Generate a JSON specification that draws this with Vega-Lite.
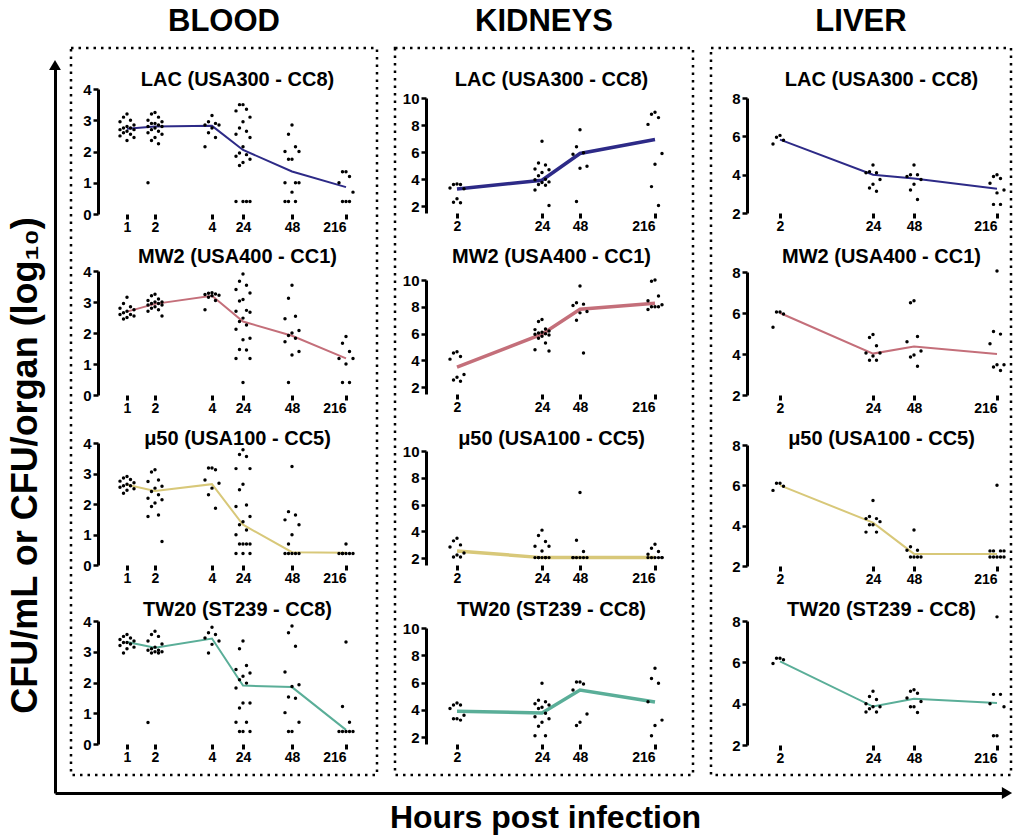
{
"$schema":"https://vega.github.io/schema/vega-lite/v6.json",
"background":"white",
"padding":{"left":5,"top":4,"right":0,"bottom":0},
"spacing":18,
"bounds":"flush",
"datasets":{
"lod":[{"o":"Blood","lod":0.6},{"o":"Kidneys","lod":2.1},{"o":"Liver","lod":2.5}],
"breaks":[{"o":"Blood","a":0,"b":9.2},{"o":"Blood","a":11.1,"b":63.6},{"o":"Blood","a":82.2,"b":244},{"o":"Kidneys","a":0,"b":14.4},{"o":"Kidneys","a":15.7,"b":59.2},{"o":"Kidneys","a":70.4,"b":234},{"o":"Liver","a":0,"b":14.5},{"o":"Liver","a":16,"b":50},{"o":"Liver","a":68.2,"b":222}],
"arrows":[{"ax":"x","x":1,"y":0},{"ax":"y","x":0,"y":1}],
"means":[
{"o":"Blood","s":"LAC","t":1,"v":2.73},{"o":"Blood","s":"LAC","t":2,"v":2.8},{"o":"Blood","s":"LAC","t":4,"v":2.82},{"o":"Blood","s":"LAC","t":24,"v":2.05},{"o":"Blood","s":"LAC","t":48,"v":1.36},{"o":"Blood","s":"LAC","t":216,"v":0.86},
{"o":"Blood","s":"MW2","t":1,"v":2.69},{"o":"Blood","s":"MW2","t":2,"v":2.94},{"o":"Blood","s":"MW2","t":4,"v":3.2},{"o":"Blood","s":"MW2","t":24,"v":2.37},{"o":"Blood","s":"MW2","t":48,"v":1.91},{"o":"Blood","s":"MW2","t":216,"v":1.18},
{"o":"Blood","s":"μ50","t":1,"v":2.63},{"o":"Blood","s":"μ50","t":2,"v":2.43},{"o":"Blood","s":"μ50","t":4,"v":2.65},{"o":"Blood","s":"μ50","t":24,"v":1.32},{"o":"Blood","s":"μ50","t":48,"v":0.42},{"o":"Blood","s":"μ50","t":216,"v":0.4},
{"o":"Blood","s":"TW20","t":1,"v":3.32},{"o":"Blood","s":"TW20","t":2,"v":3.13},{"o":"Blood","s":"TW20","t":4,"v":3.43},{"o":"Blood","s":"TW20","t":24,"v":1.9},{"o":"Blood","s":"TW20","t":48,"v":1.85},{"o":"Blood","s":"TW20","t":216,"v":0.46},
{"o":"Kidneys","s":"LAC","t":2,"v":3.28},{"o":"Kidneys","s":"LAC","t":24,"v":3.92},{"o":"Kidneys","s":"LAC","t":48,"v":5.9},{"o":"Kidneys","s":"LAC","t":216,"v":6.93},
{"o":"Kidneys","s":"MW2","t":2,"v":3.5},{"o":"Kidneys","s":"MW2","t":24,"v":5.96},{"o":"Kidneys","s":"MW2","t":48,"v":7.82},{"o":"Kidneys","s":"MW2","t":216,"v":8.27},
{"o":"Kidneys","s":"μ50","t":2,"v":2.55},{"o":"Kidneys","s":"μ50","t":24,"v":2.05},{"o":"Kidneys","s":"μ50","t":48,"v":2.05},{"o":"Kidneys","s":"μ50","t":216,"v":2.05},
{"o":"Kidneys","s":"TW20","t":2,"v":3.9},{"o":"Kidneys","s":"TW20","t":24,"v":3.77},{"o":"Kidneys","s":"TW20","t":48,"v":5.45},{"o":"Kidneys","s":"TW20","t":216,"v":4.58},
{"o":"Liver","s":"LAC","t":2,"v":5.83},{"o":"Liver","s":"LAC","t":24,"v":4.0},{"o":"Liver","s":"LAC","t":48,"v":3.8},{"o":"Liver","s":"LAC","t":216,"v":3.27},
{"o":"Liver","s":"MW2","t":2,"v":6.0},{"o":"Liver","s":"MW2","t":24,"v":4.02},{"o":"Liver","s":"MW2","t":48,"v":4.37},{"o":"Liver","s":"MW2","t":216,"v":4.0},
{"o":"Liver","s":"μ50","t":2,"v":6.0},{"o":"Liver","s":"μ50","t":24,"v":4.15},{"o":"Liver","s":"μ50","t":48,"v":2.6},{"o":"Liver","s":"μ50","t":216,"v":2.6},
{"o":"Liver","s":"TW20","t":2,"v":6.05},{"o":"Liver","s":"TW20","t":24,"v":3.86},{"o":"Liver","s":"TW20","t":48,"v":4.24},{"o":"Liver","s":"TW20","t":216,"v":4.03}
],
"pts":[
{"o":"Blood","s":"LAC","t":1,"v":3.2},{"o":"Blood","s":"LAC","t":1,"v":3.1},{"o":"Blood","s":"LAC","t":1,"v":3.0},{"o":"Blood","s":"LAC","t":1,"v":2.95},{"o":"Blood","s":"LAC","t":1,"v":2.85},{"o":"Blood","s":"LAC","t":1,"v":2.8},{"o":"Blood","s":"LAC","t":1,"v":2.75},{"o":"Blood","s":"LAC","t":1,"v":2.75},{"o":"Blood","s":"LAC","t":1,"v":2.7},{"o":"Blood","s":"LAC","t":1,"v":2.7},{"o":"Blood","s":"LAC","t":1,"v":2.65},{"o":"Blood","s":"LAC","t":1,"v":2.6},{"o":"Blood","s":"LAC","t":1,"v":2.55},{"o":"Blood","s":"LAC","t":1,"v":2.5},{"o":"Blood","s":"LAC","t":1,"v":2.45},{"o":"Blood","s":"LAC","t":1,"v":2.35},
{"o":"Blood","s":"LAC","t":2,"v":3.25},{"o":"Blood","s":"LAC","t":2,"v":3.2},{"o":"Blood","s":"LAC","t":2,"v":3.1},{"o":"Blood","s":"LAC","t":2,"v":3.0},{"o":"Blood","s":"LAC","t":2,"v":2.95},{"o":"Blood","s":"LAC","t":2,"v":2.9},{"o":"Blood","s":"LAC","t":2,"v":2.9},{"o":"Blood","s":"LAC","t":2,"v":2.85},{"o":"Blood","s":"LAC","t":2,"v":2.8},{"o":"Blood","s":"LAC","t":2,"v":2.8},{"o":"Blood","s":"LAC","t":2,"v":2.75},{"o":"Blood","s":"LAC","t":2,"v":2.7},{"o":"Blood","s":"LAC","t":2,"v":2.65},{"o":"Blood","s":"LAC","t":2,"v":2.6},{"o":"Blood","s":"LAC","t":2,"v":2.55},{"o":"Blood","s":"LAC","t":2,"v":2.45},{"o":"Blood","s":"LAC","t":2,"v":2.35},{"o":"Blood","s":"LAC","t":2,"v":2.25},{"o":"Blood","s":"LAC","t":2,"v":1.0},
{"o":"Blood","s":"LAC","t":4,"v":3.15},{"o":"Blood","s":"LAC","t":4,"v":2.95},{"o":"Blood","s":"LAC","t":4,"v":2.9},{"o":"Blood","s":"LAC","t":4,"v":2.85},{"o":"Blood","s":"LAC","t":4,"v":2.85},{"o":"Blood","s":"LAC","t":4,"v":2.75},{"o":"Blood","s":"LAC","t":4,"v":2.6},{"o":"Blood","s":"LAC","t":4,"v":2.45},{"o":"Blood","s":"LAC","t":4,"v":2.15},
{"o":"Blood","s":"LAC","t":24,"v":3.5},{"o":"Blood","s":"LAC","t":24,"v":3.5},{"o":"Blood","s":"LAC","t":24,"v":3.35},{"o":"Blood","s":"LAC","t":24,"v":3.3},{"o":"Blood","s":"LAC","t":24,"v":3.1},{"o":"Blood","s":"LAC","t":24,"v":2.95},{"o":"Blood","s":"LAC","t":24,"v":2.75},{"o":"Blood","s":"LAC","t":24,"v":2.65},{"o":"Blood","s":"LAC","t":24,"v":2.55},{"o":"Blood","s":"LAC","t":24,"v":2.45},{"o":"Blood","s":"LAC","t":24,"v":2.15},{"o":"Blood","s":"LAC","t":24,"v":1.95},{"o":"Blood","s":"LAC","t":24,"v":1.9},{"o":"Blood","s":"LAC","t":24,"v":1.85},{"o":"Blood","s":"LAC","t":24,"v":1.75},{"o":"Blood","s":"LAC","t":24,"v":1.65},{"o":"Blood","s":"LAC","t":24,"v":1.55},{"o":"Blood","s":"LAC","t":24,"v":0.4},{"o":"Blood","s":"LAC","t":24,"v":0.4},{"o":"Blood","s":"LAC","t":24,"v":0.4},{"o":"Blood","s":"LAC","t":24,"v":0.4},
{"o":"Blood","s":"LAC","t":48,"v":2.85},{"o":"Blood","s":"LAC","t":48,"v":2.55},{"o":"Blood","s":"LAC","t":48,"v":2.15},{"o":"Blood","s":"LAC","t":48,"v":2.0},{"o":"Blood","s":"LAC","t":48,"v":2.0},{"o":"Blood","s":"LAC","t":48,"v":1.75},{"o":"Blood","s":"LAC","t":48,"v":1.75},{"o":"Blood","s":"LAC","t":48,"v":1.0},{"o":"Blood","s":"LAC","t":48,"v":1.0},{"o":"Blood","s":"LAC","t":48,"v":1.0},{"o":"Blood","s":"LAC","t":48,"v":0.7},{"o":"Blood","s":"LAC","t":48,"v":0.4},{"o":"Blood","s":"LAC","t":48,"v":0.4},{"o":"Blood","s":"LAC","t":48,"v":0.4},
{"o":"Blood","s":"LAC","t":216,"v":1.35},{"o":"Blood","s":"LAC","t":216,"v":1.35},{"o":"Blood","s":"LAC","t":216,"v":1.2},{"o":"Blood","s":"LAC","t":216,"v":1.0},{"o":"Blood","s":"LAC","t":216,"v":0.7},{"o":"Blood","s":"LAC","t":216,"v":0.4},{"o":"Blood","s":"LAC","t":216,"v":0.4},{"o":"Blood","s":"LAC","t":216,"v":0.4},
{"o":"Blood","s":"MW2","t":1,"v":3.15},{"o":"Blood","s":"MW2","t":1,"v":2.95},{"o":"Blood","s":"MW2","t":1,"v":2.85},{"o":"Blood","s":"MW2","t":1,"v":2.8},{"o":"Blood","s":"MW2","t":1,"v":2.75},{"o":"Blood","s":"MW2","t":1,"v":2.7},{"o":"Blood","s":"MW2","t":1,"v":2.65},{"o":"Blood","s":"MW2","t":1,"v":2.6},{"o":"Blood","s":"MW2","t":1,"v":2.6},{"o":"Blood","s":"MW2","t":1,"v":2.55},{"o":"Blood","s":"MW2","t":1,"v":2.5},{"o":"Blood","s":"MW2","t":1,"v":2.45},
{"o":"Blood","s":"MW2","t":2,"v":3.25},{"o":"Blood","s":"MW2","t":2,"v":3.2},{"o":"Blood","s":"MW2","t":2,"v":3.1},{"o":"Blood","s":"MW2","t":2,"v":3.05},{"o":"Blood","s":"MW2","t":2,"v":3.0},{"o":"Blood","s":"MW2","t":2,"v":3.0},{"o":"Blood","s":"MW2","t":2,"v":2.95},{"o":"Blood","s":"MW2","t":2,"v":2.95},{"o":"Blood","s":"MW2","t":2,"v":2.9},{"o":"Blood","s":"MW2","t":2,"v":2.9},{"o":"Blood","s":"MW2","t":2,"v":2.85},{"o":"Blood","s":"MW2","t":2,"v":2.8},{"o":"Blood","s":"MW2","t":2,"v":2.75},{"o":"Blood","s":"MW2","t":2,"v":2.7},{"o":"Blood","s":"MW2","t":2,"v":2.55},
{"o":"Blood","s":"MW2","t":4,"v":3.3},{"o":"Blood","s":"MW2","t":4,"v":3.28},{"o":"Blood","s":"MW2","t":4,"v":3.26},{"o":"Blood","s":"MW2","t":4,"v":3.24},{"o":"Blood","s":"MW2","t":4,"v":3.22},{"o":"Blood","s":"MW2","t":4,"v":3.2},{"o":"Blood","s":"MW2","t":4,"v":3.15},{"o":"Blood","s":"MW2","t":4,"v":3.05},{"o":"Blood","s":"MW2","t":4,"v":2.75},
{"o":"Blood","s":"MW2","t":24,"v":3.9},{"o":"Blood","s":"MW2","t":24,"v":3.67},{"o":"Blood","s":"MW2","t":24,"v":3.54},{"o":"Blood","s":"MW2","t":24,"v":3.4},{"o":"Blood","s":"MW2","t":24,"v":3.29},{"o":"Blood","s":"MW2","t":24,"v":3.08},{"o":"Blood","s":"MW2","t":24,"v":3.03},{"o":"Blood","s":"MW2","t":24,"v":2.73},{"o":"Blood","s":"MW2","t":24,"v":2.7},{"o":"Blood","s":"MW2","t":24,"v":2.67},{"o":"Blood","s":"MW2","t":24,"v":2.48},{"o":"Blood","s":"MW2","t":24,"v":2.37},{"o":"Blood","s":"MW2","t":24,"v":2.26},{"o":"Blood","s":"MW2","t":24,"v":2.12},{"o":"Blood","s":"MW2","t":24,"v":1.83},{"o":"Blood","s":"MW2","t":24,"v":1.78},{"o":"Blood","s":"MW2","t":24,"v":1.47},{"o":"Blood","s":"MW2","t":24,"v":1.45},{"o":"Blood","s":"MW2","t":24,"v":1.18},{"o":"Blood","s":"MW2","t":24,"v":1.18},{"o":"Blood","s":"MW2","t":24,"v":0.4},
{"o":"Blood","s":"MW2","t":48,"v":3.54},{"o":"Blood","s":"MW2","t":48,"v":3.12},{"o":"Blood","s":"MW2","t":48,"v":2.54},{"o":"Blood","s":"MW2","t":48,"v":2.46},{"o":"Blood","s":"MW2","t":48,"v":2.08},{"o":"Blood","s":"MW2","t":48,"v":2.0},{"o":"Blood","s":"MW2","t":48,"v":1.92},{"o":"Blood","s":"MW2","t":48,"v":1.83},{"o":"Blood","s":"MW2","t":48,"v":1.72},{"o":"Blood","s":"MW2","t":48,"v":1.4},{"o":"Blood","s":"MW2","t":48,"v":1.29},{"o":"Blood","s":"MW2","t":48,"v":0.4},
{"o":"Blood","s":"MW2","t":216,"v":1.89},{"o":"Blood","s":"MW2","t":216,"v":1.67},{"o":"Blood","s":"MW2","t":216,"v":1.4},{"o":"Blood","s":"MW2","t":216,"v":1.18},{"o":"Blood","s":"MW2","t":216,"v":1.18},{"o":"Blood","s":"MW2","t":216,"v":1.0},{"o":"Blood","s":"MW2","t":216,"v":0.4},{"o":"Blood","s":"MW2","t":216,"v":0.4},
{"o":"Blood","s":"μ50","t":1,"v":2.9},{"o":"Blood","s":"μ50","t":1,"v":2.85},{"o":"Blood","s":"μ50","t":1,"v":2.8},{"o":"Blood","s":"μ50","t":1,"v":2.75},{"o":"Blood","s":"μ50","t":1,"v":2.7},{"o":"Blood","s":"μ50","t":1,"v":2.65},{"o":"Blood","s":"μ50","t":1,"v":2.6},{"o":"Blood","s":"μ50","t":1,"v":2.6},{"o":"Blood","s":"μ50","t":1,"v":2.55},{"o":"Blood","s":"μ50","t":1,"v":2.5},{"o":"Blood","s":"μ50","t":1,"v":2.45},{"o":"Blood","s":"μ50","t":1,"v":2.35},
{"o":"Blood","s":"μ50","t":2,"v":3.12},{"o":"Blood","s":"μ50","t":2,"v":3.05},{"o":"Blood","s":"μ50","t":2,"v":2.79},{"o":"Blood","s":"μ50","t":2,"v":2.74},{"o":"Blood","s":"μ50","t":2,"v":2.58},{"o":"Blood","s":"μ50","t":2,"v":2.52},{"o":"Blood","s":"μ50","t":2,"v":2.41},{"o":"Blood","s":"μ50","t":2,"v":2.3},{"o":"Blood","s":"μ50","t":2,"v":2.19},{"o":"Blood","s":"μ50","t":2,"v":2.14},{"o":"Blood","s":"μ50","t":2,"v":2.03},{"o":"Blood","s":"μ50","t":2,"v":1.92},{"o":"Blood","s":"μ50","t":2,"v":1.64},{"o":"Blood","s":"μ50","t":2,"v":1.59},{"o":"Blood","s":"μ50","t":2,"v":0.77},
{"o":"Blood","s":"μ50","t":4,"v":3.18},{"o":"Blood","s":"μ50","t":4,"v":3.18},{"o":"Blood","s":"μ50","t":4,"v":3.12},{"o":"Blood","s":"μ50","t":4,"v":2.79},{"o":"Blood","s":"μ50","t":4,"v":2.68},{"o":"Blood","s":"μ50","t":4,"v":2.52},{"o":"Blood","s":"μ50","t":4,"v":2.3},{"o":"Blood","s":"μ50","t":4,"v":1.86},
{"o":"Blood","s":"μ50","t":24,"v":3.78},{"o":"Blood","s":"μ50","t":24,"v":3.62},{"o":"Blood","s":"μ50","t":24,"v":3.56},{"o":"Blood","s":"μ50","t":24,"v":3.16},{"o":"Blood","s":"μ50","t":24,"v":3.16},{"o":"Blood","s":"μ50","t":24,"v":2.65},{"o":"Blood","s":"μ50","t":24,"v":2.47},{"o":"Blood","s":"μ50","t":24,"v":1.97},{"o":"Blood","s":"μ50","t":24,"v":1.92},{"o":"Blood","s":"μ50","t":24,"v":1.59},{"o":"Blood","s":"μ50","t":24,"v":1.42},{"o":"Blood","s":"μ50","t":24,"v":1.32},{"o":"Blood","s":"μ50","t":24,"v":1.15},{"o":"Blood","s":"μ50","t":24,"v":0.99},{"o":"Blood","s":"μ50","t":24,"v":0.69},{"o":"Blood","s":"μ50","t":24,"v":0.69},{"o":"Blood","s":"μ50","t":24,"v":0.69},{"o":"Blood","s":"μ50","t":24,"v":0.69},{"o":"Blood","s":"μ50","t":24,"v":0.38},{"o":"Blood","s":"μ50","t":24,"v":0.38},{"o":"Blood","s":"μ50","t":24,"v":0.38},
{"o":"Blood","s":"μ50","t":48,"v":3.23},{"o":"Blood","s":"μ50","t":48,"v":1.75},{"o":"Blood","s":"μ50","t":48,"v":1.64},{"o":"Blood","s":"μ50","t":48,"v":1.48},{"o":"Blood","s":"μ50","t":48,"v":1.32},{"o":"Blood","s":"μ50","t":48,"v":0.99},{"o":"Blood","s":"μ50","t":48,"v":0.69},{"o":"Blood","s":"μ50","t":48,"v":0.38},{"o":"Blood","s":"μ50","t":48,"v":0.38},{"o":"Blood","s":"μ50","t":48,"v":0.38},{"o":"Blood","s":"μ50","t":48,"v":0.38},{"o":"Blood","s":"μ50","t":48,"v":0.38},
{"o":"Blood","s":"μ50","t":216,"v":0.69},{"o":"Blood","s":"μ50","t":216,"v":0.38},{"o":"Blood","s":"μ50","t":216,"v":0.38},{"o":"Blood","s":"μ50","t":216,"v":0.38},{"o":"Blood","s":"μ50","t":216,"v":0.38},{"o":"Blood","s":"μ50","t":216,"v":0.38},{"o":"Blood","s":"μ50","t":216,"v":0.38},
{"o":"Blood","s":"TW20","t":1,"v":3.56},{"o":"Blood","s":"TW20","t":1,"v":3.5},{"o":"Blood","s":"TW20","t":1,"v":3.45},{"o":"Blood","s":"TW20","t":1,"v":3.4},{"o":"Blood","s":"TW20","t":1,"v":3.35},{"o":"Blood","s":"TW20","t":1,"v":3.3},{"o":"Blood","s":"TW20","t":1,"v":3.3},{"o":"Blood","s":"TW20","t":1,"v":3.25},{"o":"Blood","s":"TW20","t":1,"v":3.2},{"o":"Blood","s":"TW20","t":1,"v":3.15},{"o":"Blood","s":"TW20","t":1,"v":3.1},{"o":"Blood","s":"TW20","t":1,"v":2.96},
{"o":"Blood","s":"TW20","t":2,"v":3.67},{"o":"Blood","s":"TW20","t":2,"v":3.56},{"o":"Blood","s":"TW20","t":2,"v":3.5},{"o":"Blood","s":"TW20","t":2,"v":3.35},{"o":"Blood","s":"TW20","t":2,"v":3.25},{"o":"Blood","s":"TW20","t":2,"v":3.15},{"o":"Blood","s":"TW20","t":2,"v":3.1},{"o":"Blood","s":"TW20","t":2,"v":3.05},{"o":"Blood","s":"TW20","t":2,"v":3.05},{"o":"Blood","s":"TW20","t":2,"v":3.0},{"o":"Blood","s":"TW20","t":2,"v":3.0},{"o":"Blood","s":"TW20","t":2,"v":2.96},{"o":"Blood","s":"TW20","t":2,"v":2.96},{"o":"Blood","s":"TW20","t":2,"v":0.7},
{"o":"Blood","s":"TW20","t":4,"v":3.8},{"o":"Blood","s":"TW20","t":4,"v":3.62},{"o":"Blood","s":"TW20","t":4,"v":3.56},{"o":"Blood","s":"TW20","t":4,"v":3.45},{"o":"Blood","s":"TW20","t":4,"v":3.35},{"o":"Blood","s":"TW20","t":4,"v":3.24},{"o":"Blood","s":"TW20","t":4,"v":2.96},
{"o":"Blood","s":"TW20","t":24,"v":3.35},{"o":"Blood","s":"TW20","t":24,"v":3.1},{"o":"Blood","s":"TW20","t":24,"v":2.55},{"o":"Blood","s":"TW20","t":24,"v":2.42},{"o":"Blood","s":"TW20","t":24,"v":2.31},{"o":"Blood","s":"TW20","t":24,"v":2.2},{"o":"Blood","s":"TW20","t":24,"v":2.09},{"o":"Blood","s":"TW20","t":24,"v":1.98},{"o":"Blood","s":"TW20","t":24,"v":1.82},{"o":"Blood","s":"TW20","t":24,"v":1.33},{"o":"Blood","s":"TW20","t":24,"v":1.33},{"o":"Blood","s":"TW20","t":24,"v":1.17},{"o":"Blood","s":"TW20","t":24,"v":0.71},{"o":"Blood","s":"TW20","t":24,"v":0.71},{"o":"Blood","s":"TW20","t":24,"v":0.41},{"o":"Blood","s":"TW20","t":24,"v":0.41},{"o":"Blood","s":"TW20","t":24,"v":0.41},
{"o":"Blood","s":"TW20","t":48,"v":3.84},{"o":"Blood","s":"TW20","t":48,"v":3.62},{"o":"Blood","s":"TW20","t":48,"v":3.18},{"o":"Blood","s":"TW20","t":48,"v":2.34},{"o":"Blood","s":"TW20","t":48,"v":1.93},{"o":"Blood","s":"TW20","t":48,"v":1.87},{"o":"Blood","s":"TW20","t":48,"v":1.53},{"o":"Blood","s":"TW20","t":48,"v":1.49},{"o":"Blood","s":"TW20","t":48,"v":1.02},{"o":"Blood","s":"TW20","t":48,"v":0.71},{"o":"Blood","s":"TW20","t":48,"v":0.41},{"o":"Blood","s":"TW20","t":48,"v":0.41},
{"o":"Blood","s":"TW20","t":216,"v":3.32},{"o":"Blood","s":"TW20","t":216,"v":1.22},{"o":"Blood","s":"TW20","t":216,"v":0.71},{"o":"Blood","s":"TW20","t":216,"v":0.41},{"o":"Blood","s":"TW20","t":216,"v":0.41},{"o":"Blood","s":"TW20","t":216,"v":0.41},{"o":"Blood","s":"TW20","t":216,"v":0.41},{"o":"Blood","s":"TW20","t":216,"v":0.41},
{"o":"Kidneys","s":"LAC","t":2,"v":3.65},{"o":"Kidneys","s":"LAC","t":2,"v":3.6},{"o":"Kidneys","s":"LAC","t":2,"v":3.6},{"o":"Kidneys","s":"LAC","t":2,"v":3.35},{"o":"Kidneys","s":"LAC","t":2,"v":3.3},{"o":"Kidneys","s":"LAC","t":2,"v":2.55},{"o":"Kidneys","s":"LAC","t":2,"v":2.3},{"o":"Kidneys","s":"LAC","t":2,"v":2.25},
{"o":"Kidneys","s":"LAC","t":24,"v":6.8},{"o":"Kidneys","s":"LAC","t":24,"v":5.2},{"o":"Kidneys","s":"LAC","t":24,"v":5.05},{"o":"Kidneys","s":"LAC","t":24,"v":4.75},{"o":"Kidneys","s":"LAC","t":24,"v":4.7},{"o":"Kidneys","s":"LAC","t":24,"v":4.5},{"o":"Kidneys","s":"LAC","t":24,"v":4.25},{"o":"Kidneys","s":"LAC","t":24,"v":4.0},{"o":"Kidneys","s":"LAC","t":24,"v":3.95},{"o":"Kidneys","s":"LAC","t":24,"v":3.8},{"o":"Kidneys","s":"LAC","t":24,"v":3.75},{"o":"Kidneys","s":"LAC","t":24,"v":3.6},{"o":"Kidneys","s":"LAC","t":24,"v":3.55},{"o":"Kidneys","s":"LAC","t":24,"v":3.2},{"o":"Kidneys","s":"LAC","t":24,"v":2.05},
{"o":"Kidneys","s":"LAC","t":48,"v":7.65},{"o":"Kidneys","s":"LAC","t":48,"v":6.4},{"o":"Kidneys","s":"LAC","t":48,"v":5.95},{"o":"Kidneys","s":"LAC","t":48,"v":5.85},{"o":"Kidneys","s":"LAC","t":48,"v":4.95},{"o":"Kidneys","s":"LAC","t":48,"v":4.8},{"o":"Kidneys","s":"LAC","t":48,"v":2.35},
{"o":"Kidneys","s":"LAC","t":216,"v":8.95},{"o":"Kidneys","s":"LAC","t":216,"v":8.8},{"o":"Kidneys","s":"LAC","t":216,"v":8.55},{"o":"Kidneys","s":"LAC","t":216,"v":8.05},{"o":"Kidneys","s":"LAC","t":216,"v":5.9},{"o":"Kidneys","s":"LAC","t":216,"v":5.1},{"o":"Kidneys","s":"LAC","t":216,"v":3.45},{"o":"Kidneys","s":"LAC","t":216,"v":2.05},
{"o":"Kidneys","s":"MW2","t":2,"v":4.65},{"o":"Kidneys","s":"MW2","t":2,"v":4.55},{"o":"Kidneys","s":"MW2","t":2,"v":4.3},{"o":"Kidneys","s":"MW2","t":2,"v":4.1},{"o":"Kidneys","s":"MW2","t":2,"v":2.95},{"o":"Kidneys","s":"MW2","t":2,"v":2.75},{"o":"Kidneys","s":"MW2","t":2,"v":2.55},{"o":"Kidneys","s":"MW2","t":2,"v":2.45},
{"o":"Kidneys","s":"MW2","t":24,"v":7.05},{"o":"Kidneys","s":"MW2","t":24,"v":6.9},{"o":"Kidneys","s":"MW2","t":24,"v":6.35},{"o":"Kidneys","s":"MW2","t":24,"v":6.3},{"o":"Kidneys","s":"MW2","t":24,"v":6.2},{"o":"Kidneys","s":"MW2","t":24,"v":6.1},{"o":"Kidneys","s":"MW2","t":24,"v":6.05},{"o":"Kidneys","s":"MW2","t":24,"v":6.0},{"o":"Kidneys","s":"MW2","t":24,"v":5.95},{"o":"Kidneys","s":"MW2","t":24,"v":5.9},{"o":"Kidneys","s":"MW2","t":24,"v":5.8},{"o":"Kidneys","s":"MW2","t":24,"v":5.65},{"o":"Kidneys","s":"MW2","t":24,"v":5.3},{"o":"Kidneys","s":"MW2","t":24,"v":4.8},{"o":"Kidneys","s":"MW2","t":24,"v":4.7},
{"o":"Kidneys","s":"MW2","t":48,"v":9.55},{"o":"Kidneys","s":"MW2","t":48,"v":8.3},{"o":"Kidneys","s":"MW2","t":48,"v":8.2},{"o":"Kidneys","s":"MW2","t":48,"v":8.1},{"o":"Kidneys","s":"MW2","t":48,"v":7.65},{"o":"Kidneys","s":"MW2","t":48,"v":7.55},{"o":"Kidneys","s":"MW2","t":48,"v":7.0},{"o":"Kidneys","s":"MW2","t":48,"v":4.55},
{"o":"Kidneys","s":"MW2","t":216,"v":10.0},{"o":"Kidneys","s":"MW2","t":216,"v":9.9},{"o":"Kidneys","s":"MW2","t":216,"v":8.8},{"o":"Kidneys","s":"MW2","t":216,"v":8.45},{"o":"Kidneys","s":"MW2","t":216,"v":8.15},{"o":"Kidneys","s":"MW2","t":216,"v":8.0},{"o":"Kidneys","s":"MW2","t":216,"v":8.0},{"o":"Kidneys","s":"MW2","t":216,"v":8.0},{"o":"Kidneys","s":"MW2","t":216,"v":7.8},
{"o":"Kidneys","s":"μ50","t":2,"v":3.5},{"o":"Kidneys","s":"μ50","t":2,"v":3.3},{"o":"Kidneys","s":"μ50","t":2,"v":3.0},{"o":"Kidneys","s":"μ50","t":2,"v":2.85},{"o":"Kidneys","s":"μ50","t":2,"v":2.4},{"o":"Kidneys","s":"μ50","t":2,"v":2.25},{"o":"Kidneys","s":"μ50","t":2,"v":2.1},{"o":"Kidneys","s":"μ50","t":2,"v":2.1},
{"o":"Kidneys","s":"μ50","t":24,"v":4.1},{"o":"Kidneys","s":"μ50","t":24,"v":3.7},{"o":"Kidneys","s":"μ50","t":24,"v":3.25},{"o":"Kidneys","s":"μ50","t":24,"v":2.9},{"o":"Kidneys","s":"μ50","t":24,"v":2.9},{"o":"Kidneys","s":"μ50","t":24,"v":2.55},{"o":"Kidneys","s":"μ50","t":24,"v":2.05},{"o":"Kidneys","s":"μ50","t":24,"v":2.05},{"o":"Kidneys","s":"μ50","t":24,"v":2.05},{"o":"Kidneys","s":"μ50","t":24,"v":2.05},{"o":"Kidneys","s":"μ50","t":24,"v":2.05},{"o":"Kidneys","s":"μ50","t":24,"v":2.05},{"o":"Kidneys","s":"μ50","t":24,"v":2.05},
{"o":"Kidneys","s":"μ50","t":48,"v":6.9},{"o":"Kidneys","s":"μ50","t":48,"v":3.35},{"o":"Kidneys","s":"μ50","t":48,"v":2.5},{"o":"Kidneys","s":"μ50","t":48,"v":2.05},{"o":"Kidneys","s":"μ50","t":48,"v":2.05},{"o":"Kidneys","s":"μ50","t":48,"v":2.05},{"o":"Kidneys","s":"μ50","t":48,"v":2.05},{"o":"Kidneys","s":"μ50","t":48,"v":2.05},{"o":"Kidneys","s":"μ50","t":48,"v":2.05},
{"o":"Kidneys","s":"μ50","t":216,"v":3.05},{"o":"Kidneys","s":"μ50","t":216,"v":2.75},{"o":"Kidneys","s":"μ50","t":216,"v":2.5},{"o":"Kidneys","s":"μ50","t":216,"v":2.3},{"o":"Kidneys","s":"μ50","t":216,"v":2.05},{"o":"Kidneys","s":"μ50","t":216,"v":2.05},{"o":"Kidneys","s":"μ50","t":216,"v":2.05},{"o":"Kidneys","s":"μ50","t":216,"v":2.05},{"o":"Kidneys","s":"μ50","t":216,"v":2.05},{"o":"Kidneys","s":"μ50","t":216,"v":2.05},
{"o":"Kidneys","s":"TW20","t":2,"v":4.5},{"o":"Kidneys","s":"TW20","t":2,"v":4.35},{"o":"Kidneys","s":"TW20","t":2,"v":4.35},{"o":"Kidneys","s":"TW20","t":2,"v":4.1},{"o":"Kidneys","s":"TW20","t":2,"v":3.6},{"o":"Kidneys","s":"TW20","t":2,"v":3.35},{"o":"Kidneys","s":"TW20","t":2,"v":3.35},{"o":"Kidneys","s":"TW20","t":2,"v":3.25},
{"o":"Kidneys","s":"TW20","t":24,"v":5.95},{"o":"Kidneys","s":"TW20","t":24,"v":4.7},{"o":"Kidneys","s":"TW20","t":24,"v":4.6},{"o":"Kidneys","s":"TW20","t":24,"v":4.45},{"o":"Kidneys","s":"TW20","t":24,"v":4.35},{"o":"Kidneys","s":"TW20","t":24,"v":4.2},{"o":"Kidneys","s":"TW20","t":24,"v":4.1},{"o":"Kidneys","s":"TW20","t":24,"v":3.75},{"o":"Kidneys","s":"TW20","t":24,"v":3.5},{"o":"Kidneys","s":"TW20","t":24,"v":3.35},{"o":"Kidneys","s":"TW20","t":24,"v":3.1},{"o":"Kidneys","s":"TW20","t":24,"v":2.8},{"o":"Kidneys","s":"TW20","t":24,"v":2.1},{"o":"Kidneys","s":"TW20","t":24,"v":2.1},
{"o":"Kidneys","s":"TW20","t":48,"v":6.05},{"o":"Kidneys","s":"TW20","t":48,"v":6.05},{"o":"Kidneys","s":"TW20","t":48,"v":5.9},{"o":"Kidneys","s":"TW20","t":48,"v":5.45},{"o":"Kidneys","s":"TW20","t":48,"v":3.7},{"o":"Kidneys","s":"TW20","t":48,"v":3.1},{"o":"Kidneys","s":"TW20","t":48,"v":2.85},
{"o":"Kidneys","s":"TW20","t":216,"v":7.05},{"o":"Kidneys","s":"TW20","t":216,"v":6.3},{"o":"Kidneys","s":"TW20","t":216,"v":5.95},{"o":"Kidneys","s":"TW20","t":216,"v":4.6},{"o":"Kidneys","s":"TW20","t":216,"v":3.25},{"o":"Kidneys","s":"TW20","t":216,"v":2.85},{"o":"Kidneys","s":"TW20","t":216,"v":2.1},
{"o":"Liver","s":"LAC","t":2,"v":6.05},{"o":"Liver","s":"LAC","t":2,"v":5.95},{"o":"Liver","s":"LAC","t":2,"v":5.8},{"o":"Liver","s":"LAC","t":2,"v":5.6},
{"o":"Liver","s":"LAC","t":24,"v":4.5},{"o":"Liver","s":"LAC","t":24,"v":4.15},{"o":"Liver","s":"LAC","t":24,"v":4.1},{"o":"Liver","s":"LAC","t":24,"v":4.1},{"o":"Liver","s":"LAC","t":24,"v":3.75},{"o":"Liver","s":"LAC","t":24,"v":3.5},{"o":"Liver","s":"LAC","t":24,"v":3.3},{"o":"Liver","s":"LAC","t":24,"v":3.13},
{"o":"Liver","s":"LAC","t":48,"v":4.5},{"o":"Liver","s":"LAC","t":48,"v":4.0},{"o":"Liver","s":"LAC","t":48,"v":4.0},{"o":"Liver","s":"LAC","t":48,"v":3.9},{"o":"Liver","s":"LAC","t":48,"v":3.75},{"o":"Liver","s":"LAC","t":48,"v":3.5},{"o":"Liver","s":"LAC","t":48,"v":3.2},{"o":"Liver","s":"LAC","t":48,"v":2.7},
{"o":"Liver","s":"LAC","t":216,"v":4.0},{"o":"Liver","s":"LAC","t":216,"v":3.9},{"o":"Liver","s":"LAC","t":216,"v":3.8},{"o":"Liver","s":"LAC","t":216,"v":3.55},{"o":"Liver","s":"LAC","t":216,"v":3.2},{"o":"Liver","s":"LAC","t":216,"v":3.05},{"o":"Liver","s":"LAC","t":216,"v":2.45},{"o":"Liver","s":"LAC","t":216,"v":2.45},
{"o":"Liver","s":"MW2","t":2,"v":6.05},{"o":"Liver","s":"MW2","t":2,"v":6.05},{"o":"Liver","s":"MW2","t":2,"v":5.95},{"o":"Liver","s":"MW2","t":2,"v":5.3},
{"o":"Liver","s":"MW2","t":24,"v":4.95},{"o":"Liver","s":"MW2","t":24,"v":4.8},{"o":"Liver","s":"MW2","t":24,"v":4.4},{"o":"Liver","s":"MW2","t":24,"v":4.05},{"o":"Liver","s":"MW2","t":24,"v":4.05},{"o":"Liver","s":"MW2","t":24,"v":3.9},{"o":"Liver","s":"MW2","t":24,"v":3.7},{"o":"Liver","s":"MW2","t":24,"v":3.7},
{"o":"Liver","s":"MW2","t":48,"v":6.6},{"o":"Liver","s":"MW2","t":48,"v":6.5},{"o":"Liver","s":"MW2","t":48,"v":4.85},{"o":"Liver","s":"MW2","t":48,"v":4.6},{"o":"Liver","s":"MW2","t":48,"v":4.15},{"o":"Liver","s":"MW2","t":48,"v":3.95},{"o":"Liver","s":"MW2","t":48,"v":3.85},{"o":"Liver","s":"MW2","t":48,"v":3.4},
{"o":"Liver","s":"MW2","t":216,"v":8.05},{"o":"Liver","s":"MW2","t":216,"v":5.1},{"o":"Liver","s":"MW2","t":216,"v":4.97},{"o":"Liver","s":"MW2","t":216,"v":4.5},{"o":"Liver","s":"MW2","t":216,"v":3.48},{"o":"Liver","s":"MW2","t":216,"v":3.48},{"o":"Liver","s":"MW2","t":216,"v":3.37},{"o":"Liver","s":"MW2","t":216,"v":3.2},
{"o":"Liver","s":"μ50","t":2,"v":6.1},{"o":"Liver","s":"μ50","t":2,"v":6.1},{"o":"Liver","s":"μ50","t":2,"v":5.95},{"o":"Liver","s":"μ50","t":2,"v":5.75},
{"o":"Liver","s":"μ50","t":24,"v":5.25},{"o":"Liver","s":"μ50","t":24,"v":4.45},{"o":"Liver","s":"μ50","t":24,"v":4.35},{"o":"Liver","s":"μ50","t":24,"v":4.35},{"o":"Liver","s":"μ50","t":24,"v":4.2},{"o":"Liver","s":"μ50","t":24,"v":4.05},{"o":"Liver","s":"μ50","t":24,"v":4.05},{"o":"Liver","s":"μ50","t":24,"v":3.68},{"o":"Liver","s":"μ50","t":24,"v":3.68},
{"o":"Liver","s":"μ50","t":48,"v":3.78},{"o":"Liver","s":"μ50","t":48,"v":2.95},{"o":"Liver","s":"μ50","t":48,"v":2.78},{"o":"Liver","s":"μ50","t":48,"v":2.78},{"o":"Liver","s":"μ50","t":48,"v":2.45},{"o":"Liver","s":"μ50","t":48,"v":2.45},{"o":"Liver","s":"μ50","t":48,"v":2.45},{"o":"Liver","s":"μ50","t":48,"v":2.45},
{"o":"Liver","s":"μ50","t":216,"v":6.0},{"o":"Liver","s":"μ50","t":216,"v":2.75},{"o":"Liver","s":"μ50","t":216,"v":2.75},{"o":"Liver","s":"μ50","t":216,"v":2.75},{"o":"Liver","s":"μ50","t":216,"v":2.75},{"o":"Liver","s":"μ50","t":216,"v":2.45},{"o":"Liver","s":"μ50","t":216,"v":2.45},{"o":"Liver","s":"μ50","t":216,"v":2.45},{"o":"Liver","s":"μ50","t":216,"v":2.45},{"o":"Liver","s":"μ50","t":216,"v":2.45},
{"o":"Liver","s":"TW20","t":2,"v":6.2},{"o":"Liver","s":"TW20","t":2,"v":6.2},{"o":"Liver","s":"TW20","t":2,"v":6.13},{"o":"Liver","s":"TW20","t":2,"v":5.94},
{"o":"Liver","s":"TW20","t":24,"v":4.6},{"o":"Liver","s":"TW20","t":24,"v":4.35},{"o":"Liver","s":"TW20","t":24,"v":4.2},{"o":"Liver","s":"TW20","t":24,"v":4.0},{"o":"Liver","s":"TW20","t":24,"v":3.85},{"o":"Liver","s":"TW20","t":24,"v":3.85},{"o":"Liver","s":"TW20","t":24,"v":3.75},{"o":"Liver","s":"TW20","t":24,"v":3.6},{"o":"Liver","s":"TW20","t":24,"v":3.6},
{"o":"Liver","s":"TW20","t":48,"v":4.67},{"o":"Liver","s":"TW20","t":48,"v":4.6},{"o":"Liver","s":"TW20","t":48,"v":4.5},{"o":"Liver","s":"TW20","t":48,"v":4.27},{"o":"Liver","s":"TW20","t":48,"v":4.1},{"o":"Liver","s":"TW20","t":48,"v":3.85},{"o":"Liver","s":"TW20","t":48,"v":3.85},{"o":"Liver","s":"TW20","t":48,"v":3.57},
{"o":"Liver","s":"TW20","t":216,"v":8.2},{"o":"Liver","s":"TW20","t":216,"v":4.45},{"o":"Liver","s":"TW20","t":216,"v":4.45},{"o":"Liver","s":"TW20","t":216,"v":4.0},{"o":"Liver","s":"TW20","t":216,"v":3.85},{"o":"Liver","s":"TW20","t":216,"v":2.45},{"o":"Liver","s":"TW20","t":216,"v":2.45}
]
},
"hconcat":[
{
"width":306,"height":727,
"view":{"stroke":"black","strokeWidth":2.5,"strokeDash":[2.5,5]},
"title":{"text":"BLOOD"},
"resolve":{"scale":{"x":"independent","y":"independent","shape":"independent"}},
"layer":[
{"encoding":{"x":{"field":"t","type":"quantitative","scale":{"domain":[0,1,2,4,24,48,216],"range":[27,56,84,141,172,221,275]},"axis":{"orient":"bottom","offset":-561,"values":[1,2,4,24,48,216],"title":null}},"y":{"field":"v","type":"quantitative","scale":{"domain":[0,4],"range":[166,41]},"axis":{"orient":"left","offset":-27,"values":[0,1,2,3,4],"title":"LAC (USA300 - CC8)","titleX":139,"titleY":37,"titleAngle":0,"titleAlign":"center","titleBaseline":"alphabetic","titleFontSize":20}}},
"layer":[
{"data":{"name":"breaks"},"transform":[{"filter":"datum.o=='Blood'"}],"mark":{"type":"rule","strokeWidth":3.5,"color":"black"},"encoding":{"x":{"field":"a","type":"quantitative"},"x2":{"field":"b"},"y":{"datum":0}}},
{"data":{"name":"lod"},"transform":[{"filter":"datum.o=='Blood'"}],"mark":{"type":"rule","color":"#ff2020","strokeWidth":2,"strokeDash":[7,5]},"encoding":{"y":{"field":"lod","type":"quantitative"},"x":{"datum":0},"x2":{"datum":235}}},
{"data":{"name":"means"},"transform":[{"filter":"datum.o=='Blood'&&datum.s=='LAC'"}],"mark":{"type":"line","color":"#2d2a87","strokeWidth":2}},
{"data":{"name":"pts"},"transform":[{"filter":"datum.o=='Blood'&&datum.s=='LAC'"},{"window":[{"op":"row_number","as":"rn"}],"groupby":["t"],"sort":[{"field":"v","order":"descending"}]}],"layer":[
{"transform":[{"filter":"datum.rn%5==1"}],"mark":{"type":"circle"}},
{"transform":[{"filter":"datum.rn%5==2"}],"mark":{"type":"circle","xOffset":-3.5}},
{"transform":[{"filter":"datum.rn%5==3"}],"mark":{"type":"circle","xOffset":3.5}},
{"transform":[{"filter":"datum.rn%5==4"}],"mark":{"type":"circle","xOffset":-7}},
{"transform":[{"filter":"datum.rn%5==0"}],"mark":{"type":"circle","xOffset":7}}]}
]},
{"encoding":{"x":{"field":"t","type":"quantitative","scale":{"domain":[0,1,2,4,24,48,216],"range":[27,56,84,141,172,221,275]},"axis":{"orient":"bottom","offset":-380,"values":[1,2,4,24,48,216],"title":null}},"y":{"field":"v","type":"quantitative","scale":{"domain":[0,4],"range":[347,223]},"axis":{"orient":"left","offset":-27,"values":[0,1,2,3,4],"title":"MW2 (USA400 - CC1)","titleX":139,"titleY":214,"titleAngle":0,"titleAlign":"center","titleBaseline":"alphabetic","titleFontSize":20}}},
"layer":[
{"data":{"name":"breaks"},"transform":[{"filter":"datum.o=='Blood'"}],"mark":{"type":"rule","strokeWidth":3.5,"color":"black"},"encoding":{"x":{"field":"a","type":"quantitative"},"x2":{"field":"b"},"y":{"datum":0}}},
{"data":{"name":"lod"},"transform":[{"filter":"datum.o=='Blood'"}],"mark":{"type":"rule","color":"#ff2020","strokeWidth":2,"strokeDash":[7,5]},"encoding":{"y":{"field":"lod","type":"quantitative"},"x":{"datum":0},"x2":{"datum":235}}},
{"data":{"name":"means"},"transform":[{"filter":"datum.o=='Blood'&&datum.s=='MW2'"}],"mark":{"type":"line","color":"#c46f7a","strokeWidth":2}},
{"data":{"name":"pts"},"transform":[{"filter":"datum.o=='Blood'&&datum.s=='MW2'"},{"window":[{"op":"row_number","as":"rn"}],"groupby":["t"],"sort":[{"field":"v","order":"descending"}]}],"layer":[
{"transform":[{"filter":"datum.rn%5==1"}],"mark":{"type":"circle"}},
{"transform":[{"filter":"datum.rn%5==2"}],"mark":{"type":"circle","xOffset":-3.5}},
{"transform":[{"filter":"datum.rn%5==3"}],"mark":{"type":"circle","xOffset":3.5}},
{"transform":[{"filter":"datum.rn%5==4"}],"mark":{"type":"circle","xOffset":-7}},
{"transform":[{"filter":"datum.rn%5==0"}],"mark":{"type":"circle","xOffset":7}}]}
]},
{"encoding":{"x":{"field":"t","type":"quantitative","scale":{"domain":[0,1,2,4,24,48,216],"range":[27,56,84,141,172,221,275]},"axis":{"orient":"bottom","offset":-210,"values":[1,2,4,24,48,216],"title":null}},"y":{"field":"v","type":"quantitative","scale":{"domain":[0,4],"range":[517,395]},"axis":{"orient":"left","offset":-27,"values":[0,1,2,3,4],"title":"μ50 (USA100 - CC5)","titleX":139,"titleY":396,"titleAngle":0,"titleAlign":"center","titleBaseline":"alphabetic","titleFontSize":20}}},
"layer":[
{"data":{"name":"breaks"},"transform":[{"filter":"datum.o=='Blood'"}],"mark":{"type":"rule","strokeWidth":3.5,"color":"black"},"encoding":{"x":{"field":"a","type":"quantitative"},"x2":{"field":"b"},"y":{"datum":0}}},
{"data":{"name":"lod"},"transform":[{"filter":"datum.o=='Blood'"}],"mark":{"type":"rule","color":"#ff2020","strokeWidth":2,"strokeDash":[7,5]},"encoding":{"y":{"field":"lod","type":"quantitative"},"x":{"datum":0},"x2":{"datum":235}}},
{"data":{"name":"means"},"transform":[{"filter":"datum.o=='Blood'&&datum.s=='μ50'"}],"mark":{"type":"line","color":"#d8c879","strokeWidth":2}},
{"data":{"name":"pts"},"transform":[{"filter":"datum.o=='Blood'&&datum.s=='μ50'"},{"window":[{"op":"row_number","as":"rn"}],"groupby":["t"],"sort":[{"field":"v","order":"descending"}]}],"layer":[
{"transform":[{"filter":"datum.rn%5==1"}],"mark":{"type":"circle"}},
{"transform":[{"filter":"datum.rn%5==2"}],"mark":{"type":"circle","xOffset":-3.5}},
{"transform":[{"filter":"datum.rn%5==3"}],"mark":{"type":"circle","xOffset":3.5}},
{"transform":[{"filter":"datum.rn%5==4"}],"mark":{"type":"circle","xOffset":-7}},
{"transform":[{"filter":"datum.rn%5==0"}],"mark":{"type":"circle","xOffset":7}}]}
]},
{"encoding":{"x":{"field":"t","type":"quantitative","scale":{"domain":[0,1,2,4,24,48,216],"range":[27,56,84,141,172,221,275]},"axis":{"orient":"bottom","offset":-31,"values":[1,2,4,24,48,216],"title":null}},"y":{"field":"v","type":"quantitative","scale":{"domain":[0,4],"range":[696,573]},"axis":{"orient":"left","offset":-27,"values":[0,1,2,3,4],"title":"TW20 (ST239 - CC8)","titleX":139,"titleY":567,"titleAngle":0,"titleAlign":"center","titleBaseline":"alphabetic","titleFontSize":20}}},
"layer":[
{"data":{"name":"breaks"},"transform":[{"filter":"datum.o=='Blood'"}],"mark":{"type":"rule","strokeWidth":3.5,"color":"black"},"encoding":{"x":{"field":"a","type":"quantitative"},"x2":{"field":"b"},"y":{"datum":0}}},
{"data":{"name":"lod"},"transform":[{"filter":"datum.o=='Blood'"}],"mark":{"type":"rule","color":"#ff2020","strokeWidth":2,"strokeDash":[7,5]},"encoding":{"y":{"field":"lod","type":"quantitative"},"x":{"datum":0},"x2":{"datum":235}}},
{"data":{"name":"means"},"transform":[{"filter":"datum.o=='Blood'&&datum.s=='TW20'"}],"mark":{"type":"line","color":"#5aae98","strokeWidth":2}},
{"data":{"name":"pts"},"transform":[{"filter":"datum.o=='Blood'&&datum.s=='TW20'"},{"window":[{"op":"row_number","as":"rn"}],"groupby":["t"],"sort":[{"field":"v","order":"descending"}]}],"layer":[
{"transform":[{"filter":"datum.rn%5==1"}],"mark":{"type":"circle"}},
{"transform":[{"filter":"datum.rn%5==2"}],"mark":{"type":"circle","xOffset":-3.5}},
{"transform":[{"filter":"datum.rn%5==3"}],"mark":{"type":"circle","xOffset":3.5}},
{"transform":[{"filter":"datum.rn%5==4"}],"mark":{"type":"circle","xOffset":-7}},
{"transform":[{"filter":"datum.rn%5==0"}],"mark":{"type":"circle","xOffset":7}}]}
]},
{"data":{"name":"arrows"},"mark":{"type":"point","filled":true,"color":"black","size":140,"opacity":1},
"encoding":{
"x":{"field":"x","type":"quantitative","scale":{"domain":[0,1],"range":[-16,936]},"axis":{"orient":"bottom","offset":18,"domain":true,"domainWidth":3,"ticks":false,"labels":false,"title":"Hours post infection","titleFontSize":32,"titlePadding":9,"titleX":474}},
"y":{"field":"y","type":"quantitative","scale":{"domain":[0,1],"range":[745,17]},"axis":{"orient":"left","offset":16,"domain":true,"domainWidth":3,"ticks":false,"labels":false,"title":"CFU/mL or CFU/organ (log₁₀)","titleAngle":-90,"titleBaseline":"bottom","titleAlign":"center","titleFontSize":36,"titlePadding":11,"titleY":417}},
"shape":{"field":"ax","type":"nominal","scale":{"domain":["x","y"],"range":["triangle-right","triangle-up"]},"legend":null}}}
]
},
{
"width":298,"height":727,
"view":{"stroke":"black","strokeWidth":2.5,"strokeDash":[2.5,5]},
"title":{"text":"KIDNEYS"},
"resolve":{"scale":{"x":"independent","y":"independent"}},
"layer":[
{"encoding":{"x":{"field":"t","type":"quantitative","scale":{"domain":[0,2,24,48,216],"range":[31,62,147,185,260]},"axis":{"orient":"bottom","offset":-562,"values":[2,24,48,216],"title":null}},"y":{"field":"v","type":"quantitative","scale":{"domain":[1.5,10],"range":[165,50]},"axis":{"orient":"left","offset":-31,"values":[2,4,6,8,10],"title":"LAC (USA300 - CC8)","titleX":125,"titleY":37,"titleAngle":0,"titleAlign":"center","titleBaseline":"alphabetic","titleFontSize":20}}},
"layer":[
{"data":{"name":"breaks"},"transform":[{"filter":"datum.o=='Kidneys'"}],"mark":{"type":"rule","strokeWidth":3.5,"color":"black"},"encoding":{"x":{"field":"a","type":"quantitative"},"x2":{"field":"b"},"y":{"datum":1.5}}},
{"data":{"name":"lod"},"transform":[{"filter":"datum.o=='Kidneys'"}],"mark":{"type":"rule","color":"#ff2020","strokeWidth":2,"strokeDash":[7,5]},"encoding":{"y":{"field":"lod","type":"quantitative"},"x":{"datum":0},"x2":{"datum":234}}},
{"data":{"name":"means"},"transform":[{"filter":"datum.o=='Kidneys'&&datum.s=='LAC'"}],"mark":{"type":"line","color":"#2d2a87","strokeWidth":3.5}},
{"data":{"name":"pts"},"transform":[{"filter":"datum.o=='Kidneys'&&datum.s=='LAC'"},{"window":[{"op":"row_number","as":"rn"}],"groupby":["t"],"sort":[{"field":"v","order":"descending"}]}],"layer":[
{"transform":[{"filter":"datum.rn%5==1"}],"mark":{"type":"circle"}},
{"transform":[{"filter":"datum.rn%5==2"}],"mark":{"type":"circle","xOffset":-3.5}},
{"transform":[{"filter":"datum.rn%5==3"}],"mark":{"type":"circle","xOffset":3.5}},
{"transform":[{"filter":"datum.rn%5==4"}],"mark":{"type":"circle","xOffset":-7}},
{"transform":[{"filter":"datum.rn%5==0"}],"mark":{"type":"circle","xOffset":7}}]}
]},
{"encoding":{"x":{"field":"t","type":"quantitative","scale":{"domain":[0,2,24,48,216],"range":[31,62,147,185,260]},"axis":{"orient":"bottom","offset":-381,"values":[2,24,48,216],"title":null}},"y":{"field":"v","type":"quantitative","scale":{"domain":[1.5,10],"range":[346,232]},"axis":{"orient":"left","offset":-31,"values":[2,4,6,8,10],"title":"MW2 (USA400 - CC1)","titleX":125,"titleY":214,"titleAngle":0,"titleAlign":"center","titleBaseline":"alphabetic","titleFontSize":20}}},
"layer":[
{"data":{"name":"breaks"},"transform":[{"filter":"datum.o=='Kidneys'"}],"mark":{"type":"rule","strokeWidth":3.5,"color":"black"},"encoding":{"x":{"field":"a","type":"quantitative"},"x2":{"field":"b"},"y":{"datum":1.5}}},
{"data":{"name":"lod"},"transform":[{"filter":"datum.o=='Kidneys'"}],"mark":{"type":"rule","color":"#ff2020","strokeWidth":2,"strokeDash":[7,5]},"encoding":{"y":{"field":"lod","type":"quantitative"},"x":{"datum":0},"x2":{"datum":234}}},
{"data":{"name":"means"},"transform":[{"filter":"datum.o=='Kidneys'&&datum.s=='MW2'"}],"mark":{"type":"line","color":"#c46f7a","strokeWidth":3.5}},
{"data":{"name":"pts"},"transform":[{"filter":"datum.o=='Kidneys'&&datum.s=='MW2'"},{"window":[{"op":"row_number","as":"rn"}],"groupby":["t"],"sort":[{"field":"v","order":"descending"}]}],"layer":[
{"transform":[{"filter":"datum.rn%5==1"}],"mark":{"type":"circle"}},
{"transform":[{"filter":"datum.rn%5==2"}],"mark":{"type":"circle","xOffset":-3.5}},
{"transform":[{"filter":"datum.rn%5==3"}],"mark":{"type":"circle","xOffset":3.5}},
{"transform":[{"filter":"datum.rn%5==4"}],"mark":{"type":"circle","xOffset":-7}},
{"transform":[{"filter":"datum.rn%5==0"}],"mark":{"type":"circle","xOffset":7}}]}
]},
{"encoding":{"x":{"field":"t","type":"quantitative","scale":{"domain":[0,2,24,48,216],"range":[31,62,147,185,260]},"axis":{"orient":"bottom","offset":-210,"values":[2,24,48,216],"title":null}},"y":{"field":"v","type":"quantitative","scale":{"domain":[1.5,10],"range":[517,403]},"axis":{"orient":"left","offset":-31,"values":[2,4,6,8,10],"title":"μ50 (USA100 - CC5)","titleX":125,"titleY":396,"titleAngle":0,"titleAlign":"center","titleBaseline":"alphabetic","titleFontSize":20}}},
"layer":[
{"data":{"name":"breaks"},"transform":[{"filter":"datum.o=='Kidneys'"}],"mark":{"type":"rule","strokeWidth":3.5,"color":"black"},"encoding":{"x":{"field":"a","type":"quantitative"},"x2":{"field":"b"},"y":{"datum":1.5}}},
{"data":{"name":"lod"},"transform":[{"filter":"datum.o=='Kidneys'"}],"mark":{"type":"rule","color":"#ff2020","strokeWidth":2,"strokeDash":[7,5]},"encoding":{"y":{"field":"lod","type":"quantitative"},"x":{"datum":0},"x2":{"datum":234}}},
{"data":{"name":"means"},"transform":[{"filter":"datum.o=='Kidneys'&&datum.s=='μ50'"}],"mark":{"type":"line","color":"#d8c879","strokeWidth":3.5}},
{"data":{"name":"pts"},"transform":[{"filter":"datum.o=='Kidneys'&&datum.s=='μ50'"},{"window":[{"op":"row_number","as":"rn"}],"groupby":["t"],"sort":[{"field":"v","order":"descending"}]}],"layer":[
{"transform":[{"filter":"datum.rn%5==1"}],"mark":{"type":"circle"}},
{"transform":[{"filter":"datum.rn%5==2"}],"mark":{"type":"circle","xOffset":-3.5}},
{"transform":[{"filter":"datum.rn%5==3"}],"mark":{"type":"circle","xOffset":3.5}},
{"transform":[{"filter":"datum.rn%5==4"}],"mark":{"type":"circle","xOffset":-7}},
{"transform":[{"filter":"datum.rn%5==0"}],"mark":{"type":"circle","xOffset":7}}]}
]},
{"encoding":{"x":{"field":"t","type":"quantitative","scale":{"domain":[0,2,24,48,216],"range":[31,62,147,185,260]},"axis":{"orient":"bottom","offset":-31,"values":[2,24,48,216],"title":null}},"y":{"field":"v","type":"quantitative","scale":{"domain":[1.5,10],"range":[696,580]},"axis":{"orient":"left","offset":-31,"values":[2,4,6,8,10],"title":"TW20 (ST239 - CC8)","titleX":125,"titleY":567,"titleAngle":0,"titleAlign":"center","titleBaseline":"alphabetic","titleFontSize":20}}},
"layer":[
{"data":{"name":"breaks"},"transform":[{"filter":"datum.o=='Kidneys'"}],"mark":{"type":"rule","strokeWidth":3.5,"color":"black"},"encoding":{"x":{"field":"a","type":"quantitative"},"x2":{"field":"b"},"y":{"datum":1.5}}},
{"data":{"name":"lod"},"transform":[{"filter":"datum.o=='Kidneys'"}],"mark":{"type":"rule","color":"#ff2020","strokeWidth":2,"strokeDash":[7,5]},"encoding":{"y":{"field":"lod","type":"quantitative"},"x":{"datum":0},"x2":{"datum":234}}},
{"data":{"name":"means"},"transform":[{"filter":"datum.o=='Kidneys'&&datum.s=='TW20'"}],"mark":{"type":"line","color":"#5aae98","strokeWidth":3.5}},
{"data":{"name":"pts"},"transform":[{"filter":"datum.o=='Kidneys'&&datum.s=='TW20'"},{"window":[{"op":"row_number","as":"rn"}],"groupby":["t"],"sort":[{"field":"v","order":"descending"}]}],"layer":[
{"transform":[{"filter":"datum.rn%5==1"}],"mark":{"type":"circle"}},
{"transform":[{"filter":"datum.rn%5==2"}],"mark":{"type":"circle","xOffset":-3.5}},
{"transform":[{"filter":"datum.rn%5==3"}],"mark":{"type":"circle","xOffset":3.5}},
{"transform":[{"filter":"datum.rn%5==4"}],"mark":{"type":"circle","xOffset":-7}},
{"transform":[{"filter":"datum.rn%5==0"}],"mark":{"type":"circle","xOffset":7}}]}
]}
]
},
{
"width":300,"height":727,
"view":{"stroke":"black","strokeWidth":2.5,"strokeDash":[2.5,5]},
"title":{"text":"LIVER"},
"resolve":{"scale":{"x":"independent","y":"independent"}},
"layer":[
{"encoding":{"x":{"field":"t","type":"quantitative","scale":{"domain":[0,2,24,48,216],"range":[36,69,162,203,286]},"axis":{"orient":"bottom","offset":-562,"values":[2,24,48,216],"title":null}},"y":{"field":"v","type":"quantitative","scale":{"domain":[2,8],"range":[165,50]},"axis":{"orient":"left","offset":-36,"values":[2,4,6,8],"title":"LAC (USA300 - CC8)","titleX":134,"titleY":37,"titleAngle":0,"titleAlign":"center","titleBaseline":"alphabetic","titleFontSize":20}}},
"layer":[
{"data":{"name":"breaks"},"transform":[{"filter":"datum.o=='Liver'"}],"mark":{"type":"rule","strokeWidth":3.5,"color":"black"},"encoding":{"x":{"field":"a","type":"quantitative"},"x2":{"field":"b"},"y":{"datum":2}}},
{"data":{"name":"lod"},"transform":[{"filter":"datum.o=='Liver'"}],"mark":{"type":"rule","color":"#ff2020","strokeWidth":2,"strokeDash":[7,5]},"encoding":{"y":{"field":"lod","type":"quantitative"},"x":{"datum":0},"x2":{"datum":222}}},
{"data":{"name":"means"},"transform":[{"filter":"datum.o=='Liver'&&datum.s=='LAC'"}],"mark":{"type":"line","color":"#2d2a87","strokeWidth":2}},
{"data":{"name":"pts"},"transform":[{"filter":"datum.o=='Liver'&&datum.s=='LAC'"},{"window":[{"op":"row_number","as":"rn"}],"groupby":["t"],"sort":[{"field":"v","order":"descending"}]}],"layer":[
{"transform":[{"filter":"datum.rn%5==1"}],"mark":{"type":"circle"}},
{"transform":[{"filter":"datum.rn%5==2"}],"mark":{"type":"circle","xOffset":-3.5}},
{"transform":[{"filter":"datum.rn%5==3"}],"mark":{"type":"circle","xOffset":3.5}},
{"transform":[{"filter":"datum.rn%5==4"}],"mark":{"type":"circle","xOffset":-7}},
{"transform":[{"filter":"datum.rn%5==0"}],"mark":{"type":"circle","xOffset":7}}]}
]},
{"encoding":{"x":{"field":"t","type":"quantitative","scale":{"domain":[0,2,24,48,216],"range":[36,69,162,203,286]},"axis":{"orient":"bottom","offset":-380,"values":[2,24,48,216],"title":null}},"y":{"field":"v","type":"quantitative","scale":{"domain":[2,8],"range":[347,224]},"axis":{"orient":"left","offset":-36,"values":[2,4,6,8],"title":"MW2 (USA400 - CC1)","titleX":134,"titleY":214,"titleAngle":0,"titleAlign":"center","titleBaseline":"alphabetic","titleFontSize":20}}},
"layer":[
{"data":{"name":"breaks"},"transform":[{"filter":"datum.o=='Liver'"}],"mark":{"type":"rule","strokeWidth":3.5,"color":"black"},"encoding":{"x":{"field":"a","type":"quantitative"},"x2":{"field":"b"},"y":{"datum":2}}},
{"data":{"name":"lod"},"transform":[{"filter":"datum.o=='Liver'"}],"mark":{"type":"rule","color":"#ff2020","strokeWidth":2,"strokeDash":[7,5]},"encoding":{"y":{"field":"lod","type":"quantitative"},"x":{"datum":0},"x2":{"datum":222}}},
{"data":{"name":"means"},"transform":[{"filter":"datum.o=='Liver'&&datum.s=='MW2'"}],"mark":{"type":"line","color":"#c46f7a","strokeWidth":2}},
{"data":{"name":"pts"},"transform":[{"filter":"datum.o=='Liver'&&datum.s=='MW2'"},{"window":[{"op":"row_number","as":"rn"}],"groupby":["t"],"sort":[{"field":"v","order":"descending"}]}],"layer":[
{"transform":[{"filter":"datum.rn%5==1"}],"mark":{"type":"circle"}},
{"transform":[{"filter":"datum.rn%5==2"}],"mark":{"type":"circle","xOffset":-3.5}},
{"transform":[{"filter":"datum.rn%5==3"}],"mark":{"type":"circle","xOffset":3.5}},
{"transform":[{"filter":"datum.rn%5==4"}],"mark":{"type":"circle","xOffset":-7}},
{"transform":[{"filter":"datum.rn%5==0"}],"mark":{"type":"circle","xOffset":7}}]}
]},
{"encoding":{"x":{"field":"t","type":"quantitative","scale":{"domain":[0,2,24,48,216],"range":[36,69,162,203,286]},"axis":{"orient":"bottom","offset":-209,"values":[2,24,48,216],"title":null}},"y":{"field":"v","type":"quantitative","scale":{"domain":[2,8],"range":[518,397]},"axis":{"orient":"left","offset":-36,"values":[2,4,6,8],"title":"μ50 (USA100 - CC5)","titleX":134,"titleY":396,"titleAngle":0,"titleAlign":"center","titleBaseline":"alphabetic","titleFontSize":20}}},
"layer":[
{"data":{"name":"breaks"},"transform":[{"filter":"datum.o=='Liver'"}],"mark":{"type":"rule","strokeWidth":3.5,"color":"black"},"encoding":{"x":{"field":"a","type":"quantitative"},"x2":{"field":"b"},"y":{"datum":2}}},
{"data":{"name":"lod"},"transform":[{"filter":"datum.o=='Liver'"}],"mark":{"type":"rule","color":"#ff2020","strokeWidth":2,"strokeDash":[7,5]},"encoding":{"y":{"field":"lod","type":"quantitative"},"x":{"datum":0},"x2":{"datum":222}}},
{"data":{"name":"means"},"transform":[{"filter":"datum.o=='Liver'&&datum.s=='μ50'"}],"mark":{"type":"line","color":"#d8c879","strokeWidth":2}},
{"data":{"name":"pts"},"transform":[{"filter":"datum.o=='Liver'&&datum.s=='μ50'"},{"window":[{"op":"row_number","as":"rn"}],"groupby":["t"],"sort":[{"field":"v","order":"descending"}]}],"layer":[
{"transform":[{"filter":"datum.rn%5==1"}],"mark":{"type":"circle"}},
{"transform":[{"filter":"datum.rn%5==2"}],"mark":{"type":"circle","xOffset":-3.5}},
{"transform":[{"filter":"datum.rn%5==3"}],"mark":{"type":"circle","xOffset":3.5}},
{"transform":[{"filter":"datum.rn%5==4"}],"mark":{"type":"circle","xOffset":-7}},
{"transform":[{"filter":"datum.rn%5==0"}],"mark":{"type":"circle","xOffset":7}}]}
]},
{"encoding":{"x":{"field":"t","type":"quantitative","scale":{"domain":[0,2,24,48,216],"range":[36,69,162,203,286]},"axis":{"orient":"bottom","offset":-30,"values":[2,24,48,216],"title":null}},"y":{"field":"v","type":"quantitative","scale":{"domain":[2,8],"range":[697,573]},"axis":{"orient":"left","offset":-36,"values":[2,4,6,8],"title":"TW20 (ST239 - CC8)","titleX":134,"titleY":567,"titleAngle":0,"titleAlign":"center","titleBaseline":"alphabetic","titleFontSize":20}}},
"layer":[
{"data":{"name":"breaks"},"transform":[{"filter":"datum.o=='Liver'"}],"mark":{"type":"rule","strokeWidth":3.5,"color":"black"},"encoding":{"x":{"field":"a","type":"quantitative"},"x2":{"field":"b"},"y":{"datum":2}}},
{"data":{"name":"lod"},"transform":[{"filter":"datum.o=='Liver'"}],"mark":{"type":"rule","color":"#ff2020","strokeWidth":2,"strokeDash":[7,5]},"encoding":{"y":{"field":"lod","type":"quantitative"},"x":{"datum":0},"x2":{"datum":222}}},
{"data":{"name":"means"},"transform":[{"filter":"datum.o=='Liver'&&datum.s=='TW20'"}],"mark":{"type":"line","color":"#5aae98","strokeWidth":2}},
{"data":{"name":"pts"},"transform":[{"filter":"datum.o=='Liver'&&datum.s=='TW20'"},{"window":[{"op":"row_number","as":"rn"}],"groupby":["t"],"sort":[{"field":"v","order":"descending"}]}],"layer":[
{"transform":[{"filter":"datum.rn%5==1"}],"mark":{"type":"circle"}},
{"transform":[{"filter":"datum.rn%5==2"}],"mark":{"type":"circle","xOffset":-3.5}},
{"transform":[{"filter":"datum.rn%5==3"}],"mark":{"type":"circle","xOffset":3.5}},
{"transform":[{"filter":"datum.rn%5==4"}],"mark":{"type":"circle","xOffset":-7}},
{"transform":[{"filter":"datum.rn%5==0"}],"mark":{"type":"circle","xOffset":7}}]}
]}
]
}
],
"config":{
"font":"Liberation Sans",
"view":{"stroke":null},
"circle":{"size":12,"color":"black","opacity":1},
"title":{"font":"Liberation Sans","fontSize":31,"fontWeight":"bold","color":"black","offset":10},
"axis":{"grid":false,"labelColor":"black","tickColor":"black","domainColor":"black","labelFontWeight":"bold","titleColor":"black","titleFontWeight":"bold","labelFont":"Liberation Sans","titleFont":"Liberation Sans"},
"axisX":{"domain":false,"tickWidth":3,"tickSize":5,"labelFontSize":14,"labelPadding":1},
"axisY":{"domainWidth":3,"tickWidth":2.5,"tickSize":5,"labelFontSize":15,"labelPadding":2}
}
}
